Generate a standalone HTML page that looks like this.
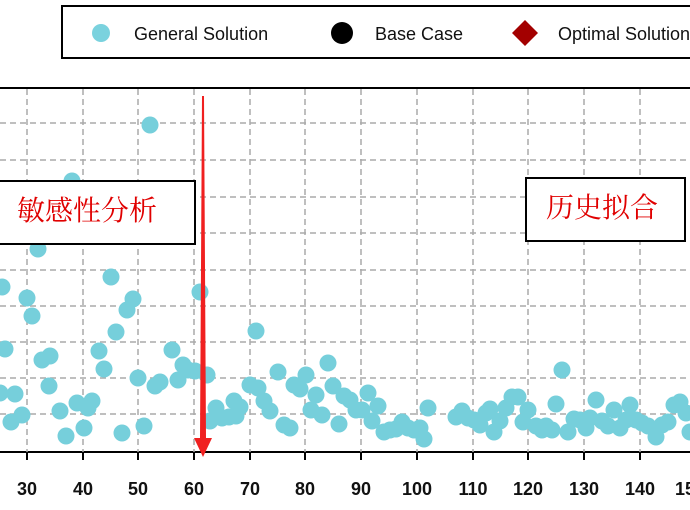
<!DOCTYPE html>
<html><head><meta charset="utf-8"><style>
html,body{margin:0;padding:0;background:#fff;width:690px;height:510px;overflow:hidden}
</style></head><body>
<svg width="690" height="510" xmlns="http://www.w3.org/2000/svg" font-family="Liberation Sans, sans-serif">
<rect x="62" y="6" width="640" height="52" fill="#fff" stroke="#000" stroke-width="2"/>
<circle cx="101" cy="33" r="9" fill="#7ad2de"/>
<text x="134" y="40" font-size="18" fill="#111">General Solution</text>
<circle cx="342" cy="33" r="11" fill="#000"/>
<text x="375" y="40" font-size="18" fill="#111">Base Case</text>
<polygon points="525,20 538,33 525,46 512,33" fill="#a30000"/>
<text x="558" y="40" font-size="18" fill="#111">Optimal Solution</text>
<line x1="0" y1="88" x2="690" y2="88" stroke="#000" stroke-width="2"/>
<line x1="0" y1="452" x2="690" y2="452" stroke="#000" stroke-width="2"/>
<g stroke="#aaa" stroke-width="1.5" stroke-dasharray="6,4">
<line x1="0" y1="123" x2="690" y2="123"/><line x1="0" y1="160" x2="690" y2="160"/><line x1="0" y1="197" x2="690" y2="197"/><line x1="0" y1="233" x2="690" y2="233"/><line x1="0" y1="270" x2="690" y2="270"/><line x1="0" y1="306" x2="690" y2="306"/><line x1="0" y1="342" x2="690" y2="342"/><line x1="0" y1="378" x2="690" y2="378"/><line x1="0" y1="414" x2="690" y2="414"/>
<line x1="27" y1="89" x2="27" y2="452"/><line x1="83" y1="89" x2="83" y2="452"/><line x1="138" y1="89" x2="138" y2="452"/><line x1="194" y1="89" x2="194" y2="452"/><line x1="250" y1="89" x2="250" y2="452"/><line x1="305" y1="89" x2="305" y2="452"/><line x1="361" y1="89" x2="361" y2="452"/><line x1="417" y1="89" x2="417" y2="452"/><line x1="473" y1="89" x2="473" y2="452"/><line x1="528" y1="89" x2="528" y2="452"/><line x1="584" y1="89" x2="584" y2="452"/><line x1="640" y1="89" x2="640" y2="452"/>
</g>
<g stroke="#000" stroke-width="2">
<line x1="27" y1="452" x2="27" y2="460"/><line x1="83" y1="452" x2="83" y2="460"/><line x1="138" y1="452" x2="138" y2="460"/><line x1="194" y1="452" x2="194" y2="460"/><line x1="250" y1="452" x2="250" y2="460"/><line x1="305" y1="452" x2="305" y2="460"/><line x1="361" y1="452" x2="361" y2="460"/><line x1="417" y1="452" x2="417" y2="460"/><line x1="473" y1="452" x2="473" y2="460"/><line x1="528" y1="452" x2="528" y2="460"/><line x1="584" y1="452" x2="584" y2="460"/><line x1="640" y1="452" x2="640" y2="460"/>
</g>
<g font-size="18" font-weight="bold" fill="#111" text-anchor="middle">
<text x="27" y="495">30</text><text x="83" y="495">40</text><text x="138" y="495">50</text><text x="194" y="495">60</text><text x="250" y="495">70</text><text x="305" y="495">80</text><text x="361" y="495">90</text><text x="417" y="495">100</text><text x="473" y="495">110</text><text x="528" y="495">120</text><text x="584" y="495">130</text><text x="640" y="495">140</text><text x="690" y="495">150</text>
</g>
<g fill="#76cfdb">
<circle cx="2" cy="287" r="8.5"/><circle cx="5" cy="349" r="8.5"/><circle cx="0" cy="393" r="8.5"/><circle cx="15" cy="394" r="8.5"/><circle cx="11" cy="422" r="8.5"/><circle cx="22" cy="415" r="8.5"/><circle cx="27" cy="298" r="8.5"/><circle cx="32" cy="316" r="8.5"/><circle cx="38" cy="249" r="8.5"/><circle cx="42" cy="360" r="8.5"/><circle cx="50" cy="356" r="8.5"/><circle cx="49" cy="386" r="8.5"/><circle cx="60" cy="411" r="8.5"/><circle cx="66" cy="436" r="8.5"/><circle cx="72" cy="181" r="8.5"/><circle cx="77" cy="403" r="8.5"/><circle cx="84" cy="428" r="8.5"/><circle cx="92" cy="401" r="8.5"/><circle cx="88" cy="408" r="8.5"/><circle cx="99" cy="351" r="8.5"/><circle cx="104" cy="369" r="8.5"/><circle cx="111" cy="277" r="8.5"/><circle cx="116" cy="332" r="8.5"/><circle cx="127" cy="310" r="8.5"/><circle cx="133" cy="299" r="8.5"/><circle cx="122" cy="433" r="8.5"/><circle cx="138" cy="378" r="8.5"/><circle cx="144" cy="426" r="8.5"/><circle cx="150" cy="125" r="8.5"/><circle cx="155" cy="386" r="8.5"/><circle cx="160" cy="382" r="8.5"/><circle cx="172" cy="350" r="8.5"/><circle cx="178" cy="380" r="8.5"/><circle cx="183" cy="365" r="8.5"/><circle cx="188" cy="370" r="8.5"/><circle cx="195" cy="371" r="8.5"/><circle cx="200" cy="292" r="8.5"/><circle cx="207" cy="375" r="8.5"/><circle cx="210" cy="421" r="8.5"/><circle cx="216" cy="408" r="8.5"/><circle cx="222" cy="418" r="8.5"/><circle cx="229" cy="417" r="8.5"/><circle cx="234" cy="401" r="8.5"/><circle cx="240" cy="407" r="8.5"/><circle cx="236" cy="416" r="8.5"/><circle cx="250" cy="385" r="8.5"/><circle cx="256" cy="331" r="8.5"/><circle cx="258" cy="388" r="8.5"/><circle cx="264" cy="401" r="8.5"/><circle cx="270" cy="411" r="8.5"/><circle cx="278" cy="372" r="8.5"/><circle cx="284" cy="425" r="8.5"/><circle cx="290" cy="428" r="8.5"/><circle cx="294" cy="385" r="8.5"/><circle cx="300" cy="389" r="8.5"/><circle cx="306" cy="375" r="8.5"/><circle cx="311" cy="410" r="8.5"/><circle cx="316" cy="395" r="8.5"/><circle cx="322" cy="415" r="8.5"/><circle cx="328" cy="363" r="8.5"/><circle cx="333" cy="386" r="8.5"/><circle cx="339" cy="424" r="8.5"/><circle cx="344" cy="396" r="8.5"/><circle cx="350" cy="400" r="8.5"/><circle cx="356" cy="410" r="8.5"/><circle cx="362" cy="410" r="8.5"/><circle cx="368" cy="393" r="8.5"/><circle cx="372" cy="421" r="8.5"/><circle cx="378" cy="406" r="8.5"/><circle cx="384" cy="432" r="8.5"/><circle cx="390" cy="430" r="8.5"/><circle cx="396" cy="429" r="8.5"/><circle cx="402" cy="422" r="8.5"/><circle cx="408" cy="428" r="8.5"/><circle cx="414" cy="430" r="8.5"/><circle cx="420" cy="428" r="8.5"/><circle cx="424" cy="439" r="8.5"/><circle cx="428" cy="408" r="8.5"/><circle cx="456" cy="417" r="8.5"/><circle cx="462" cy="411" r="8.5"/><circle cx="468" cy="418" r="8.5"/><circle cx="474" cy="420" r="8.5"/><circle cx="480" cy="425" r="8.5"/><circle cx="486" cy="413" r="8.5"/><circle cx="490" cy="409" r="8.5"/><circle cx="494" cy="432" r="8.5"/><circle cx="500" cy="421" r="8.5"/><circle cx="506" cy="408" r="8.5"/><circle cx="512" cy="397" r="8.5"/><circle cx="518" cy="397" r="8.5"/><circle cx="523" cy="422" r="8.5"/><circle cx="528" cy="410" r="8.5"/><circle cx="536" cy="426" r="8.5"/><circle cx="542" cy="430" r="8.5"/><circle cx="546" cy="426" r="8.5"/><circle cx="552" cy="430" r="8.5"/><circle cx="556" cy="404" r="8.5"/><circle cx="562" cy="370" r="8.5"/><circle cx="568" cy="432" r="8.5"/><circle cx="574" cy="419" r="8.5"/><circle cx="580" cy="420" r="8.5"/><circle cx="586" cy="428" r="8.5"/><circle cx="590" cy="418" r="8.5"/><circle cx="596" cy="400" r="8.5"/><circle cx="602" cy="421" r="8.5"/><circle cx="608" cy="426" r="8.5"/><circle cx="614" cy="410" r="8.5"/><circle cx="620" cy="428" r="8.5"/><circle cx="626" cy="420" r="8.5"/><circle cx="630" cy="405" r="8.5"/><circle cx="636" cy="420" r="8.5"/><circle cx="642" cy="423" r="8.5"/><circle cx="648" cy="426" r="8.5"/><circle cx="656" cy="437" r="8.5"/><circle cx="662" cy="425" r="8.5"/><circle cx="668" cy="422" r="8.5"/><circle cx="674" cy="405" r="8.5"/><circle cx="680" cy="402" r="8.5"/><circle cx="686" cy="413" r="8.5"/><circle cx="690" cy="432" r="8.5"/>
</g>
<rect x="-5" y="181" width="200" height="63" fill="#fff" stroke="#000" stroke-width="2"/>
<text x="17" y="220" font-size="28" fill="#e00000" font-family="Liberation Serif, Noto Serif CJK SC, serif">敏感性分析</text>
<rect x="526" y="178" width="159" height="63" fill="#fff" stroke="#000" stroke-width="2"/>
<text x="546" y="217" font-size="28" fill="#e00000" font-family="Liberation Serif, Noto Serif CJK SC, serif">历史拟合</text>
<polygon points="202,96 204,96 206,438 212,438 203,457 194,438 200,438" fill="#f02020"/>
</svg>
</body></html>
